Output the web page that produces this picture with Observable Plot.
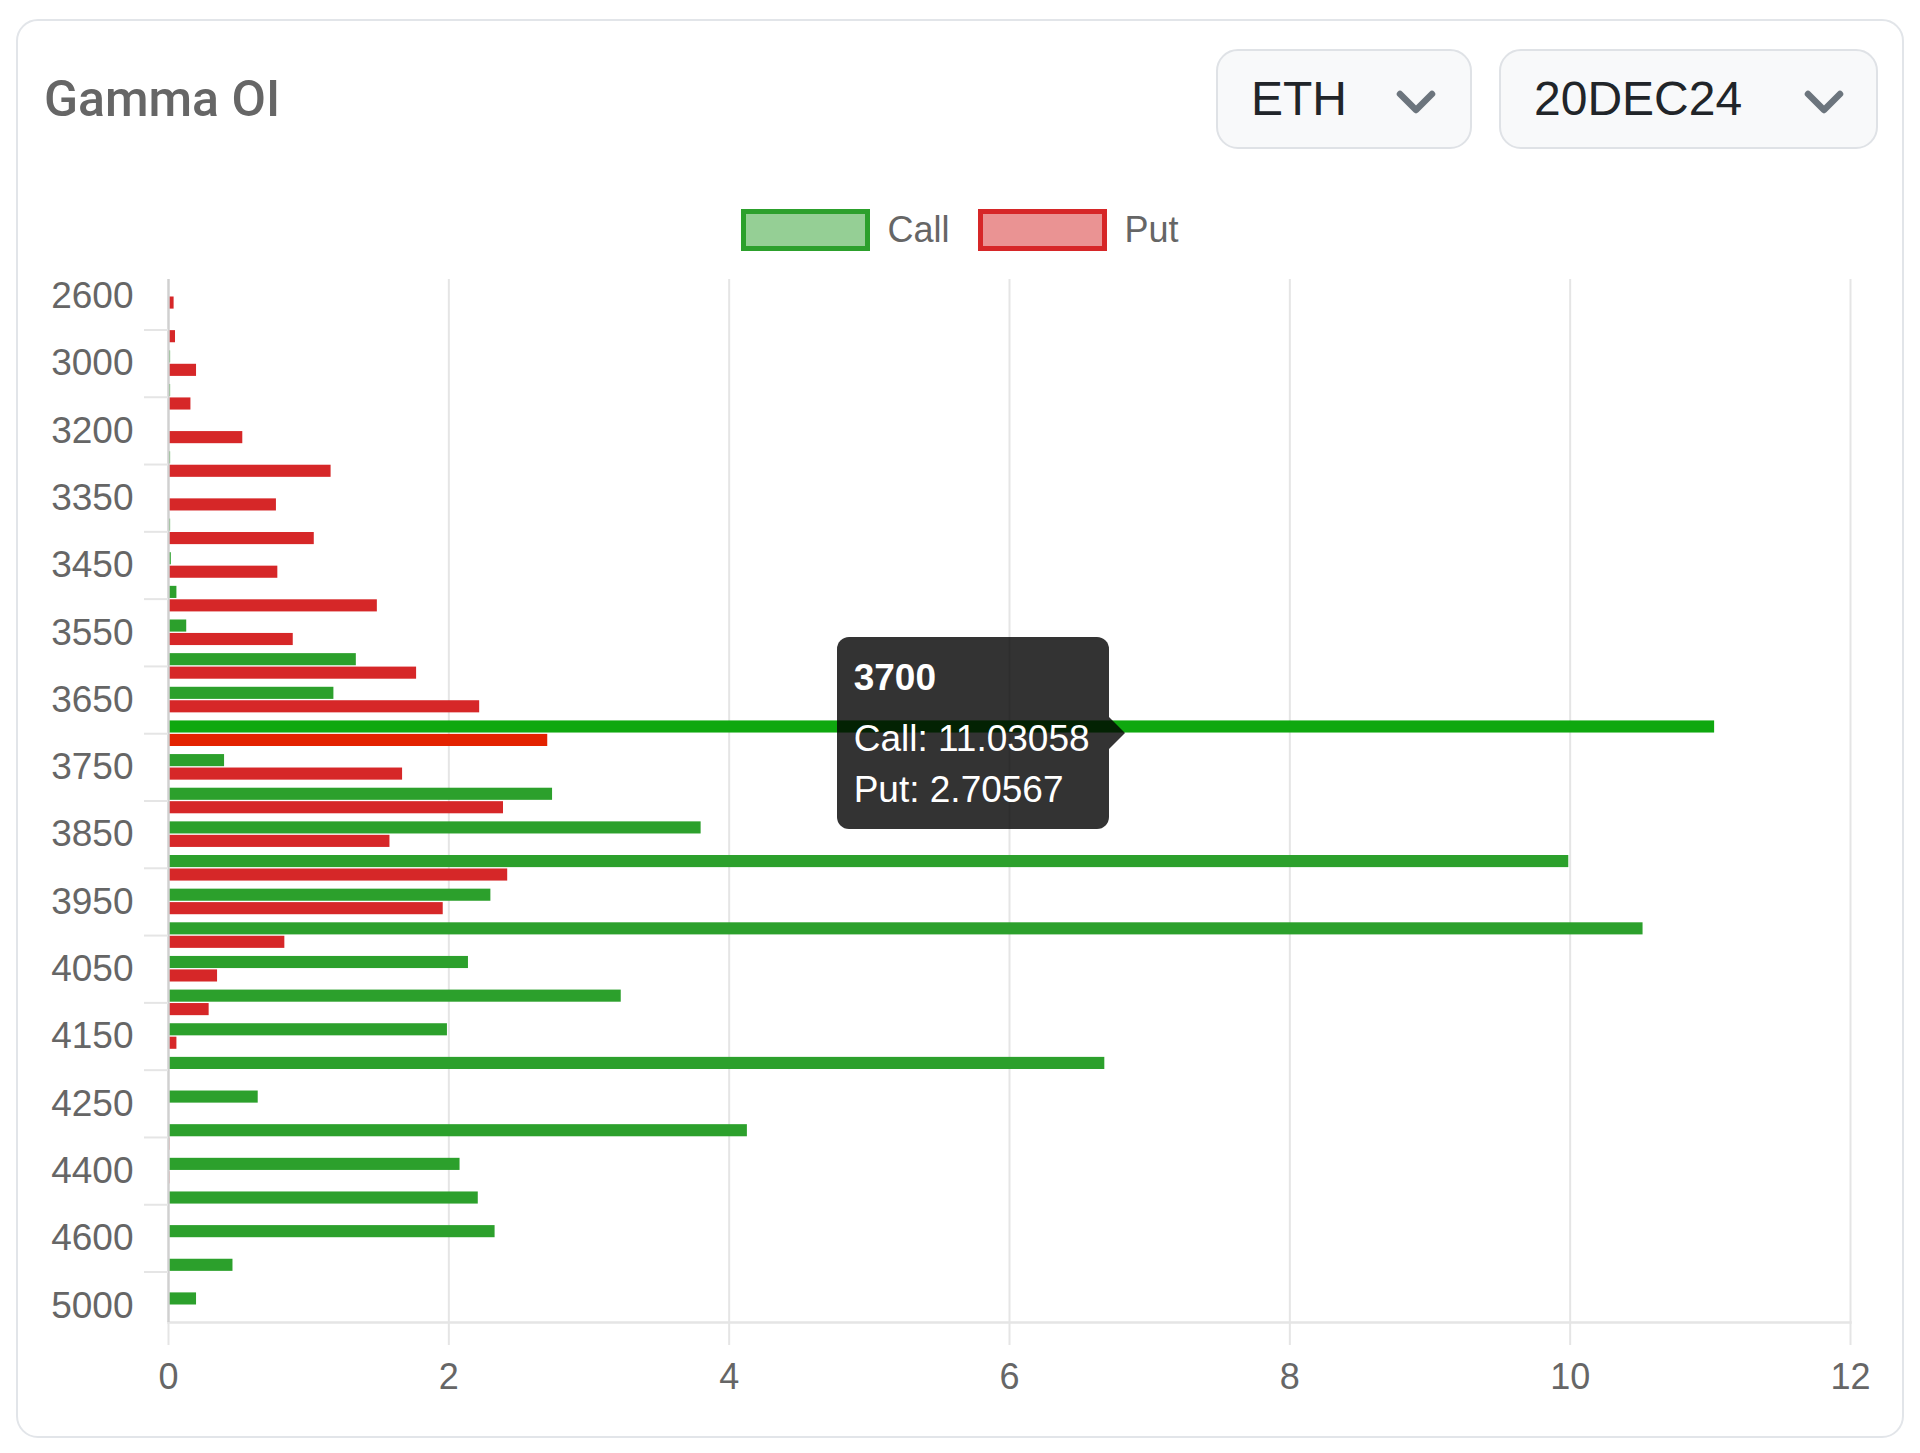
<!DOCTYPE html>
<html>
<head>
<meta charset="utf-8">
<script src="https://cdn.jsdelivr.net/npm/d3@7"></script>
<script src="https://cdn.jsdelivr.net/npm/@observablehq/plot@0.6"></script>
<style>
  html, body { margin: 0; padding: 0; background: #fff; }
  body { width: 1920px; height: 1453px; position: relative; overflow: hidden;
         font-family: "Liberation Sans", Arial, Helvetica, sans-serif; }
  #card { position: absolute; left: 16px; top: 19px; width: 1888px; height: 1419px;
          border: 2px solid #e2e5e9; border-radius: 22px; box-sizing: border-box; }
  #title { position: absolute; left: 44px; top: 71px; font-family: Roboto, "Liberation Sans", sans-serif;
           font-size: 50px; line-height: 56px; color: #666; font-weight: 500; }
  .select { position: absolute; top: 49px; height: 100px; border: 2px solid #dfe2e6; border-radius: 22px;
            background: #f8f9fa; box-sizing: border-box; }
  .select span { position: absolute; top: 0; line-height: 96px; font-size: 48px; color: #212529; }
  .select svg { position: absolute; top: 37px; }
  #legend { position: absolute; top: 209px; left: 0; width: 1920px; height: 42px; display: flex;
            justify-content: center; align-items: center; }
  .item { display: flex; align-items: center; }
  .item + .item { margin-left: 29px; }
  .sw { width: 129px; height: 42px; box-sizing: border-box; border: 5px solid; }
  .lab { margin-left: 17px; font-size: 36px; color: #666; line-height: 42px; }
  #chart { position: absolute; left: 0; top: 260px; }
  #tip { position: absolute; width: 272px; height: 192px; box-sizing: border-box; background: rgba(0,0,0,0.8);
         border-radius: 12px; padding: 19px 17px 0 17px; color: #fff; }
  #tip .tt { font-weight: bold; font-size: 37px; line-height: 44px; margin-bottom: 13px; }
  #tip .tb { font-size: 37px; line-height: 51px; white-space: nowrap; }
  #caret { position: absolute; width: 0; height: 0; border-top: 16px solid transparent;
           border-bottom: 16px solid transparent; border-left: 16px solid rgba(0,0,0,0.8); }
</style>
</head>
<body>
<div id="card"></div>
<div id="title">Gamma OI</div>
<div class="select" style="left:1216px;width:256px;">
  <span style="left:33px;">ETH</span>
  <svg width="44" height="28" viewBox="-22 -14 44 28" style="left:176px;"><polyline points="-16,-8 0,8 16,-8" fill="none" stroke="#6c757d" stroke-width="6.5" stroke-linecap="round" stroke-linejoin="round"/></svg>
</div>
<div class="select" style="left:1499px;width:379px;">
  <span style="left:33px;">20DEC24</span>
  <svg width="44" height="28" viewBox="-22 -14 44 28" style="left:301px;"><polyline points="-16,-8 0,8 16,-8" fill="none" stroke="#6c757d" stroke-width="6.5" stroke-linecap="round" stroke-linejoin="round"/></svg>
</div>
<div id="legend"></div>
<div id="chart"></div>
<script>
// ---- data ----
const strikes = ["2600","2800","3000","3100","3200","3300","3350","3400","3450","3500","3550","3600","3650","3700","3750","3800","3850","3900","3950","4000","4050","4100","4150","4200","4250","4300","4400","4500","4600","4800","5000"];
const callValues = [0, 0, 0.015, 0.015, 0, 0.015, 0, 0.015, 0.02, 0.06, 0.13, 1.34, 1.18, 11.03058, 0.40, 2.74, 3.80, 9.99, 2.30, 10.52, 2.14, 3.23, 1.99, 6.68, 0.64, 4.13, 2.08, 2.21, 2.33, 0.46, 0.20];
const putValues = [0.04, 0.05, 0.20, 0.16, 0.53, 1.16, 0.77, 1.04, 0.78, 1.49, 0.89, 1.77, 2.22, 2.70567, 1.67, 2.39, 1.58, 2.42, 1.96, 0.83, 0.35, 0.29, 0.06, 0, 0, 0.01, 0.01, 0, 0, 0, 0];
const seriesNames = ["Call", "Put"];
const xTicks = [0, 2, 4, 6, 8, 10, 12];
const labeledStrikes = strikes.filter((s, i) => i % 2 === 0);
const unlabeledStrikes = strikes.filter((s, i) => i % 2 === 1);
const hoverStrike = "3700";

// ---- styles ----
const colors = { Call: "#2ca02c", Put: "#d62728" };
const hoverColors = { Call: "#0fa80f", Put: "#e32200" };
const legendFill = { Call: "rgba(44,160,44,0.5)", Put: "rgba(214,39,40,0.5)" };

const data = strikes.map((s, i) => ({ strike: s, call: callValues[i], put: putValues[i] }));

// legend
const legend = document.getElementById("legend");
seriesNames.forEach(name => {
  const it = document.createElement("div"); it.className = "item";
  const sw = document.createElement("div"); sw.className = "sw";
  sw.style.borderColor = colors[name]; sw.style.background = legendFill[name];
  const lab = document.createElement("div"); lab.className = "lab"; lab.textContent = name;
  it.appendChild(sw); it.appendChild(lab); legend.appendChild(it);
});

const W = 1920, H = 1162, mt = 19, mb = 100, ml = 168, mr = 70;
const bw = (H - mt - mb) / strikes.length;
const font = "'Liberation Sans', Arial, Helvetica, sans-serif";

const chart = Plot.plot({
  width: W, height: H, marginTop: mt, marginBottom: mb, marginLeft: ml, marginRight: mr,
  style: { fontFamily: font, fontSize: "36px", color: "#666", background: "transparent", overflow: "visible" },
  x: { domain: [0, 12], label: null, axis: null },
  y: { domain: strikes, padding: 0, round: false, label: null, axis: null },
  color: { type: "identity" },
  marks: [
    Plot.ruleX(xTicks.slice(1), { stroke: "#e5e5e5", strokeWidth: 2 }),
    Plot.barX(data, { y: "strike", x: "call",
      fill: d => d.strike === hoverStrike ? hoverColors.Call : colors.Call,
      insetTop: 0.12 * bw, insetBottom: 0.52 * bw }),
    Plot.barX(data, { y: "strike", x: "put",
      fill: d => d.strike === hoverStrike ? hoverColors.Put : colors.Put,
      insetTop: 0.52 * bw, insetBottom: 0.12 * bw }),
    Plot.frame({ anchor: "bottom", stroke: "#e5e5e5", strokeWidth: 2.5 }),
    Plot.ruleX([0], { stroke: "#d0d0d0", strokeWidth: 2.5 }),
    Plot.axisX({ ticks: xTicks, tickSize: 23, tickPadding: 18, stroke: "#e5e5e5", strokeWidth: 2,
                 fill: "#666", fontSize: 36, label: null, tickFormat: d => String(d) }),
    Plot.axisY({ ticks: labeledStrikes, tickSize: 0, tickPadding: 35, fill: "#666", fontSize: 37, label: null }),
    Plot.axisY({ ticks: unlabeledStrikes, tickSize: 24, tickFormat: () => "", stroke: "#e5e5e5", strokeWidth: 2, label: null })
  ]
});
document.getElementById("chart").appendChild(chart);

// tooltip (hover state of the 3700 strike), positioned through the plot's scales
const xs = chart.scale("x"), ys = chart.scale("y");
const hov = data.find(d => d.strike === hoverStrike);
const px = xs.apply((hov.call + hov.put) / 2);
const py = ys.apply(hoverStrike) + ys.bandwidth / 2 + 260;
const tip = document.createElement("div"); tip.id = "tip";
tip.innerHTML = `<div class="tt">${hoverStrike}</div><div class="tb">Call: ${hov.call}</div><div class="tb">Put: ${hov.put}</div>`;
tip.style.left = (px - 22 - 272) + "px";
tip.style.top = (py - 96) + "px";
document.body.appendChild(tip);
const caret = document.createElement("div"); caret.id = "caret";
caret.style.left = (px - 22) + "px";
caret.style.top = (py - 16) + "px";
document.body.appendChild(caret);
</script>
</body>
</html>
